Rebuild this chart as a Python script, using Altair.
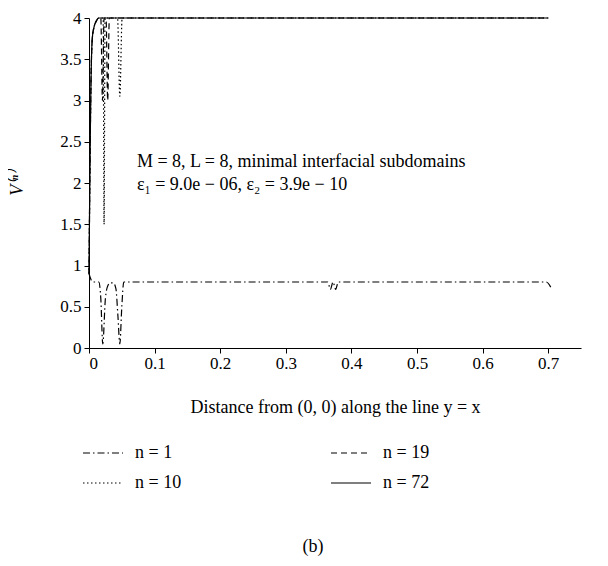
import altair as alt
import pandas as pd

FONT = "Liberation Serif"

series_order = ["n = 1", "n = 10", "n = 19", "n = 72"]

# n = 1 (dash-dot)
x_n1 = [0.0, 0.003, 0.006, 0.015, 0.018, 0.021, 0.025, 0.029, 0.033, 0.037, 0.041,
        0.044, 0.047, 0.050, 0.053, 0.060, 0.364, 0.368, 0.372, 0.376, 0.380, 0.384,
        0.697, 0.705]
y_n1 = [0.9, 0.83, 0.8, 0.8, 0.6, 0.05, 0.6, 0.76, 0.79, 0.79, 0.72,
        0.4, 0.05, 0.5, 0.8, 0.8, 0.8, 0.71, 0.8, 0.71, 0.8, 0.8,
        0.8, 0.72]

# n = 10 (dotted)
x_n10 = [0.0, 0.0015, 0.003, 0.005, 0.008, 0.011, 0.015, 0.0215, 0.023, 0.0245,
         0.0435, 0.047, 0.0505, 0.7]
y_n10 = [0.9, 2.2, 3.2, 3.75, 3.9, 3.96, 4.0, 4.0, 1.5, 4.0,
         4.0, 3.05, 4.0, 4.0]

# n = 19 (dashed)
x_n19 = [0.0, 0.0015, 0.003, 0.005, 0.008, 0.011, 0.015, 0.018, 0.0205, 0.023,
         0.026, 0.0285, 0.031, 0.7]
y_n19 = [0.9, 2.2, 3.2, 3.75, 3.9, 3.96, 4.0, 4.0, 3.0, 4.0,
         4.0, 3.0, 4.0, 4.0]

# n = 72 (solid)
x_n72 = [0.0, 0.0015, 0.003, 0.005, 0.008, 0.011, 0.015, 0.7]
y_n72 = [0.9, 2.2, 3.2, 3.75, 3.9, 3.96, 4.0, 4.0]

x_ticks = [0, 0.1, 0.2, 0.3, 0.4, 0.5, 0.6, 0.7]
y_ticks = [0, 0.5, 1, 1.5, 2, 2.5, 3, 3.5, 4]

ann_text = ["M = 8, L = 8, minimal interfacial subdomains",
            "\u03b5\u2081 = 9.0e \u2212 06, \u03b5\u2082 = 3.9e \u2212 10"]
ann_x = [0.073, 0.073]
ann_y = [2.25, 1.98]

rows = []
for name, xs, ys in [("n = 1", x_n1, y_n1), ("n = 10", x_n10, y_n10),
                     ("n = 19", x_n19, y_n19), ("n = 72", x_n72, y_n72)]:
    for i, (a, b) in enumerate(zip(xs, ys)):
        rows.append({"x": a, "y": b, "series": name, "i": i})
df = pd.DataFrame(rows)
ann = pd.DataFrame({"x": ann_x, "y": ann_y, "t": ann_text})

dash_range = [[7, 3, 1.5, 3], [1.5, 2.5], [6, 4], [1, 0]]

lines = alt.Chart(df).mark_line(color="black", interpolate="monotone", strokeCap="butt").encode(
    x=alt.X("x:Q", scale=alt.Scale(domain=[0, 0.75], nice=False, zero=False),
            axis=alt.Axis(values=x_ticks, title="Distance from (0, 0) along the line y = x",
                          format="~g", titlePadding=27, labelPadding=2)),
    y=alt.Y("y:Q", scale=alt.Scale(domain=[0, 4], nice=False),
            axis=alt.Axis(values=y_ticks, title="V\u207d\u207f\u207e", format="~g",
                          titleFontStyle="italic", titlePadding=33, labelPadding=3)),
    strokeDash=alt.StrokeDash("series:N", scale=alt.Scale(domain=series_order, range=dash_range),
                              legend=alt.Legend(title=None, orient="none", legendX=-7, legendY=414,
                                                direction="vertical", columns=2, columnPadding=146,
                                                rowPadding=-12, symbolType="stroke", symbolSize=1600,
                                                symbolStrokeWidth=1.2, symbolStrokeColor="black",
                                                labelFont=FONT, labelFontSize=18, labelOffset=11,
                                                labelColor="black", padding=0)),
    strokeWidth=alt.StrokeWidth("series:N", scale=alt.Scale(domain=series_order, range=[1.2, 1.2, 1.2, 1.8]),
                                legend=None),
    order="i:Q",
)

text = alt.Chart(ann).mark_text(align="left", baseline="middle", font=FONT, fontSize=18,
                                color="black").encode(
    x="x:Q", y="y:Q", text="t:N")

chart = alt.layer(lines, text).properties(
    width=492, height=330,
    autosize=alt.AutoSizeParams(type="none"),
    padding={"left": 81, "top": 10, "right": 17, "bottom": 210},
    title=alt.TitleParams("(b)", orient="bottom", anchor="middle", font=FONT, fontSize=18,
                          fontWeight="normal", offset=46, dx=-22, color="black"),
).configure_view(stroke=None).configure_axis(
    labelFont=FONT, labelFontSize=17, labelColor="black", titleFont=FONT, titleFontSize=18,
    titleFontWeight="normal", titleColor="black", domainColor="black", tickColor="black",
    tickSize=5, grid=False, domainWidth=1, tickWidth=1,
)

chart.save("out.html", embed_options={"renderer": "svg", "actions": False})
